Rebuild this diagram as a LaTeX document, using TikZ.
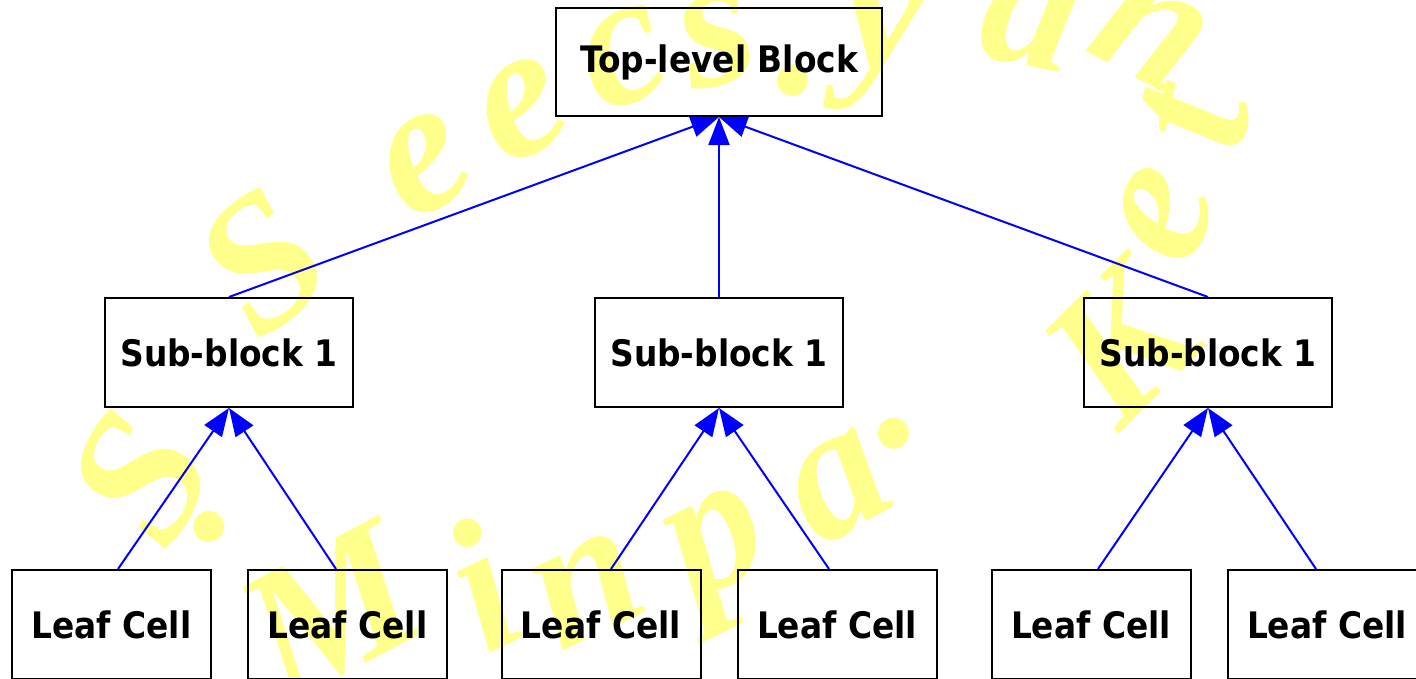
\documentclass[tikz,border=0pt]{standalone}
\usepackage{fontspec}
\setmainfont{DejaVu Sans}
\newfontfamily\labfont{DejaVu Sans}[FakeStretch=0.9]
\newfontfamily\wmfamily{Liberation Serif}
\usetikzlibrary{arrows.meta}
\definecolor{wmyellow}{RGB}{255,255,140}
\definecolor{arrowblue}{RGB}{0,0,255}
\tikzset{
  blockbox/.style={draw=black, line width=2pt, rectangle, inner sep=0pt,
    font=\labfont\bfseries\fontsize{36.5}{40}\selectfont},
  topbox/.style={blockbox, minimum width=326pt, minimum height=108pt},
  subbox/.style={blockbox, minimum width=248pt, minimum height=109pt},
  leafbox/.style={blockbox, minimum width=199pt, minimum height=109pt},
  link/.style={draw=arrowblue, line width=2pt, -{Triangle[length=28pt,width=21pt]}},
  wm/.style={text=wmyellow, inner sep=0pt,
    font=\wmfamily\bfseries\itshape\fontsize{190}{190}\selectfont}
}
\begin{document}
\begin{tikzpicture}[x=1pt,y=-1pt]
\useasboundingbox (0,0) rectangle (1416,678);
% watermark (upper arc)
\node[wm, rotate=38] (w1) at (262,262) {S};
\node[wm, rotate=32] (w2) at (425,165) {e};
\node[wm, rotate=28] (w3) at (522,110) {e};
\node[wm, rotate=22] (w4) at (625,58) {c};
\node[wm, rotate=15] (w5) at (718,40) {s};
\node[wm, rotate=10] (w6) at (800,80) {.};
\node[wm, rotate=0] (w7) at (885,45) {y};
\node[wm, rotate=-12] (w8) at (1030,22) {a};
\node[wm, rotate=-28] (w9) at (1150,35) {n};
% watermark (lower arc)
\node[wm, rotate=60] (w10) at (140,478) {S};
\node[wm, rotate=40] (w11) at (215,522) {.};
\node[wm, rotate=28] (w12) at (330,612) {M};
\node[wm, rotate=26] (w13) at (480,585) {i};
\node[wm, rotate=25] (w14) at (588,590) {n};
\node[wm, rotate=26] (w15) at (725,560) {p};
\node[wm, rotate=30] (w16) at (840,487) {a};
\node[wm, rotate=32] (w17) at (900,430) {.};
\node[wm, rotate=45] (w18) at (1120,345) {K};
\node[wm, rotate=68] (w19) at (1165,215) {e};
\node[wm, rotate=78] (w20) at (1195,118) {t};
% blocks
\node[topbox] (top) at (719,62) {Top-level Block};
\node[subbox] (s1) at (229,352.5) {Sub-block 1};
\node[subbox] (s2) at (719,352.5) {Sub-block 1};
\node[subbox] (s3) at (1208,352.5) {Sub-block 1};
\node[leafbox] (l1) at (111.5,624.5) {Leaf Cell};
\node[leafbox] (l2) at (347.5,624.5) {Leaf Cell};
\node[leafbox] (l3) at (601,624.5) {Leaf Cell};
\node[leafbox] (l4) at (837,624.5) {Leaf Cell};
\node[leafbox] (l5) at (1091,624.5) {Leaf Cell};
\node[leafbox] (l6) at (1327,624.5) {Leaf Cell};
% connectors
\draw[link] (s1.north) -- (top.south);
\draw[link] (s2.north) -- (top.south);
\draw[link] (s3.north) -- (top.south);
\draw[link] ([xshift=6.5pt]l1.north) -- (s1.south);
\draw[link] ([xshift=-11.5pt]l2.north) -- (s1.south);
\draw[link] ([xshift=10pt]l3.north) -- (s2.south);
\draw[link] ([xshift=-8pt]l4.north) -- (s2.south);
\draw[link] ([xshift=7pt]l5.north) -- (s3.south);
\draw[link] ([xshift=-11pt]l6.north) -- (s3.south);
\end{tikzpicture}
\end{document}
